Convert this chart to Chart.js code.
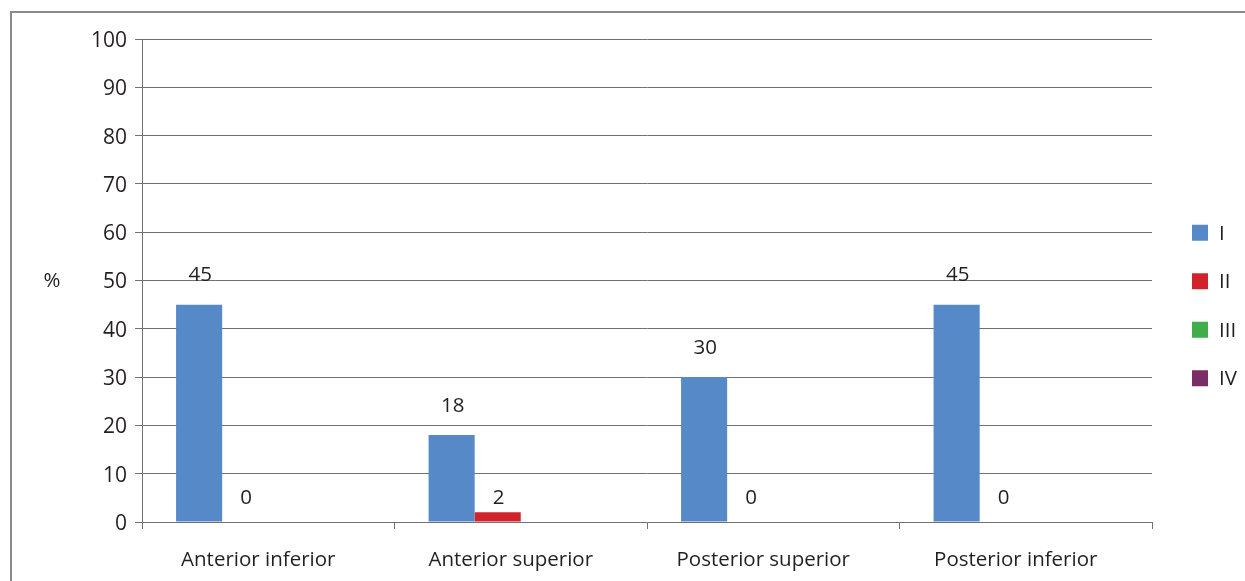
<!DOCTYPE html>
<html>
<head>
<meta charset="utf-8">
<script src="https://cdn.jsdelivr.net/npm/chart.js@4"></script>
<style>
  html, body { margin: 0; padding: 0; background: #ffffff; }
  #wrap { width: 1245px; height: 581px; position: relative; }
</style>
</head>
<body>
<div id="wrap"><canvas id="c" width="1245" height="581"></canvas></div>
<script>
// Categories and series values (percent)
const categories = ['Anterior inferior', 'Anterior superior', 'Posterior superior', 'Posterior inferior'];
const seriesNames = ['I', 'II', 'III', 'IV'];
const valuesI   = [45, 18, 30, 45];
const valuesII  = [0, 2, 0, 0];
const valuesIII = [null, null, null, null];
const valuesIV  = [null, null, null, null];
const yTicks = [0, 10, 20, 30, 40, 50, 60, 70, 80, 90, 100];
const labelledSeries = ['I', 'II'];
const axisTitle = '%';

const colors = ['#5589c7', '#d2232a', '#3fae49', '#7b2d65'];
const FONT = '"Open Sans", "Noto Sans", sans-serif';
const TEXT = '#231f20';
const LINE = '#727272';

const seriesValues = [valuesI, valuesII, valuesIII, valuesIV];

// Frame, "%" title, legend and value labels
const extras = {
  id: 'extras',
  beforeDraw(chart) {
    const ctx = chart.ctx;
    ctx.save();
    ctx.fillStyle = '#ffffff';
    ctx.fillRect(0, 0, chart.width, chart.height);
    ctx.strokeStyle = '#8a8a8a';
    ctx.lineWidth = 2;
    ctx.beginPath();
    ctx.moveTo(11, chart.height + 5);
    ctx.lineTo(11, 12);
    ctx.lineTo(chart.width + 5, 12);
    ctx.stroke();
    ctx.restore();
  },
  afterDatasetsDraw(chart) {
    const ctx = chart.ctx;
    const area = chart.chartArea;
    const yScale = chart.scales.y;
    const base = yScale.getPixelForValue(0);
    ctx.save();
    ctx.fillStyle = TEXT;
    ctx.font = '20.5px ' + FONT;
    ctx.textAlign = 'center';
    ctx.textBaseline = 'bottom';
    chart.data.datasets.forEach((ds, di) => {
      if (!labelledSeries.includes(ds.label)) return;
      const meta = chart.getDatasetMeta(di);
      meta.data.forEach((bar, i) => {
        const v = ds.data[i];
        if (v === null || v === undefined) return;
        let y = bar.y - 19;
        if (base - bar.y < 15) y = base - 14;
        ctx.fillText(String(v), bar.x + 1, y);
      });
    });

    // axis title, drawn upright
    ctx.textAlign = 'center';
    ctx.textBaseline = 'middle';
    ctx.fillText(axisTitle, 52, yScale.getPixelForValue(50) + 1);

    // legend
    const lx = area.right + 40;
    const midY = (area.top + area.bottom) / 2 + 25;
    const step = 48.5;
    ctx.textAlign = 'left';
    seriesNames.forEach((name, i) => {
      const cy = midY + (i - 1.5) * step;
      ctx.fillStyle = colors[i];
      ctx.fillRect(lx, cy - 8, 16, 16);
      ctx.fillStyle = TEXT;
      ctx.fillText(name, lx + 27, cy + 1);
    });
    ctx.restore();
  }
};

new Chart(document.getElementById('c'), {
  type: 'bar',
  data: {
    labels: categories,
    datasets: seriesNames.map((name, i) => ({
      label: name,
      data: seriesValues[i],
      backgroundColor: colors[i],
      borderWidth: 0,
      categoryPercentage: 0.73,
      barPercentage: 1.0
    }))
  },
  options: {
    responsive: false,
    animation: false,
    devicePixelRatio: 1,
    layout: { padding: { left: 0, right: 93, top: 39, bottom: 0 } },
    plugins: {
      legend: { display: false },
      tooltip: { enabled: false }
    },
    scales: {
      x: {
        grid: { display: true, drawOnChartArea: false, drawTicks: true, tickLength: 7, color: LINE, lineWidth: 1, offset: true },
        border: { display: true, color: LINE, width: 1 },
        ticks: { color: TEXT, font: { family: FONT, size: 20.5 }, padding: 19, maxRotation: 0, labelOffset: -10 },
        afterFit(scale) { scale.height = 59; }
      },
      y: {
        min: 0,
        max: 100,
        afterBuildTicks(scale) { scale.ticks = yTicks.map(v => ({ value: v })); },
        grid: { color: LINE, lineWidth: 1, tickLength: 7 },
        border: { display: true, color: LINE, width: 1 },
        ticks: { color: TEXT, font: { family: FONT, size: 21 }, padding: 8, labelOffset: 2 },
        afterFit(scale) { scale.width = 142; }
      }
    }
  },
  plugins: [extras]
});
</script>
</body>
</html>
